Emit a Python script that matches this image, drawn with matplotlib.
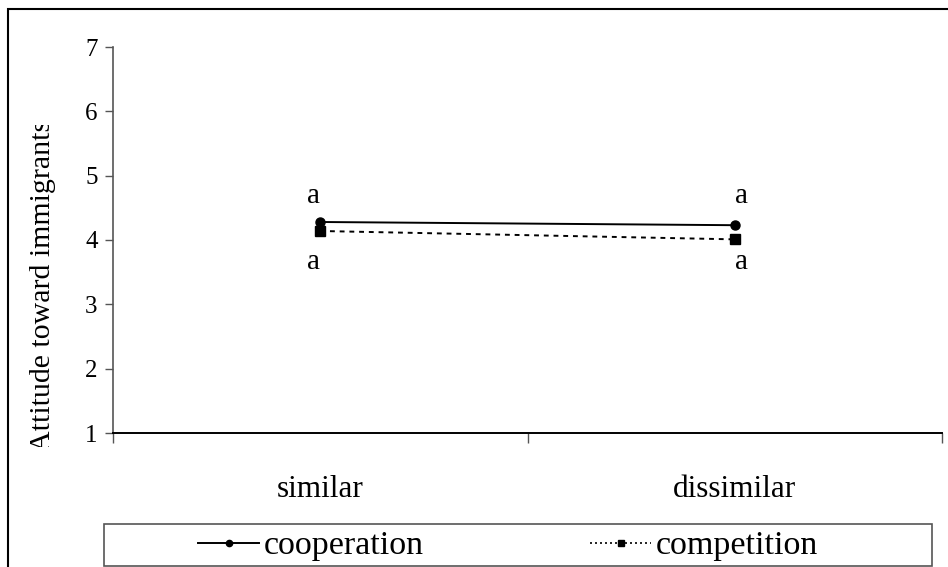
import matplotlib
matplotlib.use("Agg")
import matplotlib.pyplot as plt
from matplotlib.patches import Rectangle
from matplotlib.lines import Line2D
from matplotlib.transforms import Bbox, TransformedBbox

categories = ["similar", "dissimilar"]
cooperation = [4.28, 4.23]
competition = [4.14, 4.01]
yticks = [1, 2, 3, 4, 5, 6, 7]
coop_letters = ["a", "a"]
comp_letters = ["a", "a"]

plt.rcParams['font.family'] = ['Liberation Serif', 'DejaVu Serif']

W, H = 948, 567
fig = plt.figure(figsize=(W / 100, H / 100), dpi=100)
ax = fig.add_axes([113 / W, (H - 433) / H, (942 - 113) / W, (433 - 47) / H])

xpos = [0.5, 1.5]
l1, = ax.plot(xpos, cooperation, color='black', lw=1.4, marker='o', ms=6.5,
              label='cooperation')
l2, = ax.plot(xpos, competition, color='black', lw=1.4, ls=(0, (2.5, 2.5)),
              marker='s', ms=6.5, label='competition')

ax.set_xlim(0, 2)
ax.set_ylim(1, 7)
ax.set_yticks(yticks)
ax.set_yticklabels([str(t) for t in yticks], fontsize=18)
ax.set_xticks([0, 1, 2])
ax.set_xticklabels([])
ax.set_xticks(xpos, minor=True)
ax.set_xticklabels(categories, minor=True, fontsize=22.5)
ax.tick_params(axis='x', which='minor', length=0, pad=30)
ax.tick_params(axis='x', which='major', length=7, width=1, color='#555555')
ax.tick_params(axis='y', which='major', length=6, width=1, color='#555555', pad=5)
for s in ['top', 'right']:
    ax.spines[s].set_visible(False)
ax.spines['left'].set_color('#555555')
ax.spines['left'].set_linewidth(1.2)
ax.spines['bottom'].set_color('black')
ax.spines['bottom'].set_linewidth(1.4)

# significance letters
offs_above = [(-7, 26), (7, 29)]
offs_below = [(-7, -31), (7, -23)]
for i in range(2):
    ax.annotate(coop_letters[i], (xpos[i], cooperation[i]),
                xytext=offs_above[i], textcoords='offset pixels',
                ha='center', va='center', fontsize=21)
    ax.annotate(comp_letters[i], (xpos[i], competition[i]),
                xytext=offs_below[i], textcoords='offset pixels',
                ha='center', va='center', fontsize=21)

# y label, clipped at both ends
yl = fig.text(43 / W, (H - 452) / H, "Attitude toward immigrants", rotation=90,
              ha='center', va='bottom', fontsize=21.5)
clipbox = TransformedBbox(Bbox([[0, (H - 447) / H], [1, (H - 125) / H]]),
                          fig.transFigure)
yl.set_clip_on(True)
yl.set_clip_box(clipbox)

# outer frame
fig.patches.append(Rectangle((8 / W, -0.1), 2, (H - 9) / H + 0.1,
                             transform=fig.transFigure, fill=False,
                             edgecolor='black', lw=1.5))
# legend frame
fig.patches.append(Rectangle((104 / W, (H - 566) / H), (932 - 104) / W, 42 / H,
                             transform=fig.transFigure, fill=False,
                             edgecolor='#555555', lw=1.2))

h1 = Line2D([], [], color='black', lw=1.4, marker='o', ms=4.5)
h2 = Line2D([], [], color='black', lw=1.2, ls=(0, (1.2, 1.8)), marker='s', ms=4.5)
leg = fig.legend(handles=[h1, h2], labels=[l1.get_label(), l2.get_label()],
                 loc='center', ncol=2,
                 bbox_to_anchor=(508 / W, (H - 546) / H),
                 frameon=False, fontsize=24.5, handlelength=1.8,
                 handletextpad=0.12, columnspacing=4.9,
                 borderaxespad=0, borderpad=0)

fig.savefig("out.png", dpi=100)
